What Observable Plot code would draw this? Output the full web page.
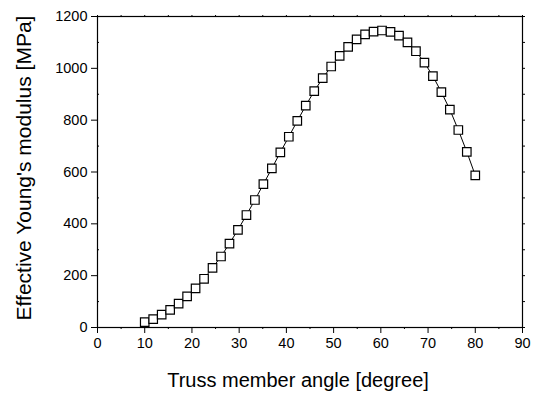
<!DOCTYPE html>
<html>
<head>
<meta charset="utf-8">
<script src="https://cdn.jsdelivr.net/npm/d3@7"></script>
<script src="https://cdn.jsdelivr.net/npm/@observablehq/plot@0.6"></script>
<style>
  html, body { margin: 0; padding: 0; background: #fff; }
  #chart svg { display: block; }
</style>
</head>
<body>
<div id="chart"></div>
<script>
const angles = [10, 11.795, 13.59, 15.385, 17.179, 18.974, 20.769, 22.564, 24.359, 26.154,
  27.949, 29.744, 31.538, 33.333, 35.128, 36.923, 38.718, 40.513, 42.308, 44.103,
  45.897, 47.692, 49.487, 51.282, 53.077, 54.872, 56.667, 58.462, 60.256, 62.051,
  63.846, 65.641, 67.436, 69.231, 71.026, 72.821, 74.615, 76.41, 78.205, 80];
const modulus = [21, 32, 50, 68, 92, 120, 151, 188, 230, 274,
  324, 377, 434, 492, 553, 614, 676, 736, 797, 856,
  912, 962, 1007, 1048, 1083, 1112, 1131, 1142, 1146, 1141,
  1126, 1100, 1066, 1022, 970, 908, 841, 762, 678, 587];
const xTicks = [0, 10, 20, 30, 40, 50, 60, 70, 80, 90];
const xMinor = [5, 15, 25, 35, 45, 55, 65, 75, 85];
const yTicks = [0, 200, 400, 600, 800, 1000, 1200];
const yMinor = [100, 300, 500, 700, 900, 1100];
const xTitle = "Truss member angle [degree]";
const yTitle = "Effective Young's modulus [MPa]";

const data = angles.map((a, i) => ({angle: a, E: modulus[i]}));
const font = "'Liberation Sans', Arial, sans-serif";

const chart = Plot.plot({
  width: 538,
  height: 393,
  marginLeft: 97,
  marginRight: 16,
  marginTop: 16,
  marginBottom: 66,
  style: {fontFamily: font, background: "white", color: "black"},
  x: {domain: [0, 90]},
  y: {domain: [0, 1200]},
  marks: [
    Plot.frame({stroke: "black", strokeWidth: 1.2}),
    Plot.axisX(xTicks, {anchor: "bottom", tickSize: 6, tickPadding: 4, fontSize: 14.5, tickFormat: d => String(d), label: null, stroke: "black", fill: "black"}),
    Plot.axisX(xMinor, {anchor: "bottom", tickSize: 2, text: null, label: null}),
    Plot.axisX(xTicks.concat(xMinor), {anchor: "top", tickSize: 2, text: null, label: null}),
    Plot.axisY(yTicks, {anchor: "left", tickSize: 6, tickPadding: 4, fontSize: 14.5, tickFormat: d => String(d), label: null, stroke: "black", fill: "black"}),
    Plot.axisY(yMinor, {anchor: "left", tickSize: -2, text: null, label: null}),
    Plot.axisY(yTicks.concat(yMinor), {anchor: "right", tickSize: 2, text: null, label: null}),
    Plot.line(data, {x: "angle", y: "E", stroke: "black", strokeWidth: 1}),
    Plot.dot(data, {x: "angle", y: "E", symbol: "square", r: 4.8, fill: "white", stroke: "black", strokeWidth: 1.2}),
    Plot.text([xTitle], {frameAnchor: "bottom", text: d => d, textAnchor: "middle", dx: -12, dy: 59, fontSize: 20, fill: "black"}),
    Plot.text([yTitle], {frameAnchor: "left", text: d => d, textAnchor: "middle", rotate: -90, dx: -73, dy: -4, fontSize: 21, fill: "black"})
  ]
});
document.getElementById("chart").append(chart);
</script>
</body>
</html>
